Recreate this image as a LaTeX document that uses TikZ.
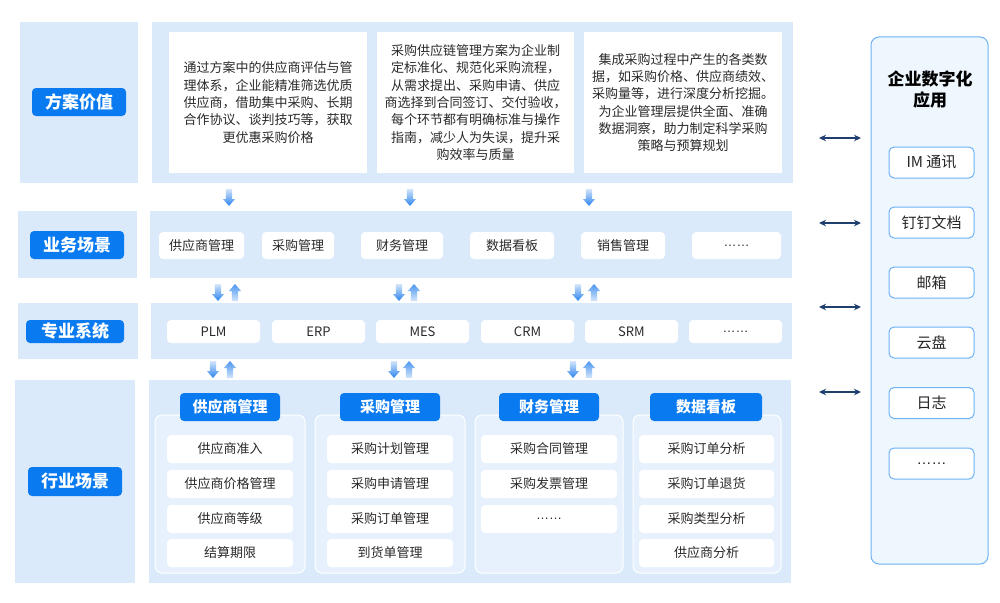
\documentclass[tikz,border=0pt]{standalone}
\usepackage{fontspec}
\setmainfont{Noto Sans CJK SC}
\newfontfamily\latinf{Liberation Sans}
\usetikzlibrary{arrows.meta}
\definecolor{panel}{HTML}{DAEAFB}
\definecolor{labblue}{HTML}{0A7AF0}
\definecolor{grpfill}{HTML}{E6F1FD}
\definecolor{txt}{HTML}{2A2A2A}
\definecolor{navy}{HTML}{1F3F6E}
\definecolor{rborder}{HTML}{6DB2F5}
\definecolor{rfill}{HTML}{EEF6FE}
\definecolor{arrlight}{HTML}{D3E5FB}
\definecolor{arrdark}{HTML}{2B84EE}
\tikzset{
 sz/.style 2 args={minimum width=#1pt, minimum height=#2pt},
 panelbox/.style={fill=panel, inner sep=0},
 labelbox/.style={fill=labblue, rounded corners=4pt, text=white, font=\fontsize{17}{20}\selectfont\bfseries, inner sep=0},
 textbox/.style={fill=white, inner sep=0, text=txt, font=\fontsize{13}{17.3}\selectfont, align=center},
 itembox/.style={fill=white, rounded corners=4pt, inner sep=0, text=txt, font=\fontsize{13}{16}\selectfont},
 grpbox/.style={fill=grpfill, draw=white, line width=1pt, rounded corners=7pt, inner sep=0},
 grphead/.style={fill=labblue, rounded corners=4pt, text=white, font=\fontsize{15}{18}\selectfont\bfseries, inner sep=0},
 rbox/.style={fill=rfill, draw=rborder, line width=1pt, rounded corners=8pt, inner sep=0},
 ritem/.style={fill=white, draw=rborder, line width=1pt, rounded corners=5pt, inner sep=0, text=black!85, font=\fontsize{15}{18}\selectfont},
 dbl/.style={{Stealth[length=7pt,width=6.5pt]}-{Stealth[length=7pt,width=6.5pt]}, draw=navy, line width=1.3pt},
}
\newcommand{\garrdn}[2]{\shade[top color=arrlight, bottom color=arrdark] (#1-3.2,#2) -- (#1+3.2,#2) -- (#1+3.2,#2+10) -- (#1+6,#2+10) -- (#1,#2+17) -- (#1-6,#2+10) -- (#1-3.2,#2+10) -- cycle;}
\newcommand{\garrup}[2]{\shade[top color=arrdark!85, bottom color=arrlight] (#1-3.2,#2) -- (#1+3.2,#2) -- (#1+3.2,#2-10) -- (#1+6,#2-10) -- (#1,#2-17) -- (#1-6,#2-10) -- (#1-3.2,#2-10) -- cycle;}
\newcommand{\myellip}{{\latinf ……}}
\begin{document}
\begin{tikzpicture}[x=1pt,y=-1pt]
\useasboundingbox[fill=white] (0,0) rectangle (1000,602);
% ---------- row 1
\node[panelbox, sz={118}{161}] (lp1) at (79,102.5) {};
\node[panelbox, sz={641}{161}] (rp1) at (472.5,102.5) {};
\node[labelbox, sz={94}{28}] (lab1) at (79,102) {方案价值};
\node[textbox, sz={198}{141}] (t1) at (268,102.5) {通过方案中的供应商评估与管\\理体系，企业能精准筛选优质\\供应商，借助集中采购、长期\\合作协议、谈判技巧等，获取\\更优惠采购价格};
\node[textbox, sz={197}{141}] (t2) at (475.5,102.5) {采购供应链管理方案为企业制\\定标准化、规范化采购流程，\\从需求提出、采购申请、供应\\商选择到合同签订、交付验收，\\每个环节都有明确标准与操作\\指南，减少人为失误，提升采\\购效率与质量};
\node[textbox, sz={198}{141}] (t3) at (683,102.5) {集成采购过程中产生的各类数\\据，如采购价格、供应商绩效、\\采购量等，进行深度分析挖掘。\\为企业管理层提供全面、准确\\数据洞察，助力制定科学采购\\策略与预算规划};
% ---------- row 2
\node[panelbox, sz={119}{67}] (lp2) at (77.5,244.5) {};
\node[panelbox, sz={642}{67}] (rp2) at (471,244.5) {};
\node[labelbox, sz={94}{28}] (lab2) at (77,245) {业务场景};
\node[itembox, sz={85}{27}] (b1) at (201.5,245.5) {供应商管理};
\node[itembox, sz={72}{27}] (b2) at (298,245.5) {采购管理};
\node[itembox, sz={82}{27}] (b3) at (402,245.5) {财务管理};
\node[itembox, sz={84}{27}] (b4) at (512,245.5) {数据看板};
\node[itembox, sz={84}{27}] (b5) at (623,245.5) {销售管理};
\node[itembox, sz={89}{27}] (b6) at (736.5,245.5) {\myellip};
% ---------- row 3
\node[panelbox, sz={120}{56}] (lp3) at (78,331) {};
\node[panelbox, sz={641}{56}] (rp3) at (471.5,331) {};
\node[labelbox, sz={98}{23}] (lab3) at (75,331.5) {专业系统};
\node[itembox, sz={93}{23}] (s1) at (213.5,331.5) {PLM};
\node[itembox, sz={93}{23}] (s2) at (318.5,331.5) {ERP};
\node[itembox, sz={93}{23}] (s3) at (422.5,331.5) {MES};
\node[itembox, sz={93}{23}] (s4) at (527.5,331.5) {CRM};
\node[itembox, sz={93}{23}] (s5) at (631.5,331.5) {SRM};
\node[itembox, sz={93}{23}] (s6) at (735.5,331.5) {\myellip};
% ---------- row 4
\node[panelbox, sz={120}{203}] (lp4) at (75,481.5) {};
\node[panelbox, sz={642}{203}] (rp4) at (470,481.5) {};
\node[labelbox, sz={94}{29}] (lab4) at (75,481.5) {行业场景};
\node[grpbox, sz={150}{158}] (g1) at (230,494) {};
\node[grpbox, sz={150}{158}] (g2) at (390,494) {};
\node[grpbox, sz={148}{158}] (g3) at (549,494) {};
\node[grpbox, sz={148}{158}] (g4) at (707,494) {};
\node[grphead, sz={100}{28}] (h1) at (230,407) {供应商管理};
\node[grphead, sz={100}{28}] (h2) at (390,407) {采购管理};
\node[grphead, sz={100}{28}] (h3) at (549,407) {财务管理};
\node[grphead, sz={112}{28}] (h4) at (706,407) {数据看板};
\node[itembox, sz={126}{28}] (i11) at (230,449) {供应商准入};
\node[itembox, sz={126}{28}] (i12) at (230,484) {供应商价格管理};
\node[itembox, sz={126}{28}] (i13) at (230,519) {供应商等级};
\node[itembox, sz={126}{28}] (i14) at (230,553) {结算期限};
\node[itembox, sz={126}{28}] (i21) at (390,449) {采购计划管理};
\node[itembox, sz={126}{28}] (i22) at (390,484) {采购申请管理};
\node[itembox, sz={126}{28}] (i23) at (390,519) {采购订单管理};
\node[itembox, sz={126}{28}] (i24) at (390,553) {到货单管理};
\node[itembox, sz={136}{28}] (i31) at (549,449) {采购合同管理};
\node[itembox, sz={136}{28}] (i32) at (549,484) {采购发票管理};
\node[itembox, sz={136}{28}] (i33) at (549,519) {\myellip};
\node[itembox, sz={135}{28}] (i41) at (706.5,449) {采购订单分析};
\node[itembox, sz={135}{28}] (i42) at (706.5,484) {采购订单退货};
\node[itembox, sz={135}{28}] (i43) at (706.5,519) {采购类型分析};
\node[itembox, sz={135}{28}] (i44) at (706.5,553) {供应商分析};
% ---------- right column
\node[rbox, sz={117}{527}] (rc) at (929.5,300.5) {};
\node[font=\fontsize{17}{21}\selectfont\bfseries, align=center, text=black, inner sep=0] (rt) at (930,90) {企业数字化\\应用};
\node[ritem, sz={85}{31}] (r1) at (931.5,162.5) {IM 通讯};
\node[ritem, sz={85}{31}] (r2) at (931.5,222.5) {钉钉文档};
\node[ritem, sz={85}{31}] (r3) at (931.5,282.5) {邮箱};
\node[ritem, sz={85}{31}] (r4) at (931.5,342.5) {云盘};
\node[ritem, sz={85}{31}] (r5) at (931.5,403) {日志};
\node[ritem, sz={85}{31}] (r6) at (931.5,463.5) {\myellip};
% ---------- double arrows
\foreach \n/\yy in {1/138,2/223,3/307,4/392}{
  \coordinate (dl\n) at (819,\yy);
  \coordinate (dr\n) at (861,\yy);
  \draw[dbl] (dl\n) -- (dr\n);
}
% ---------- gradient arrows
\garrdn{229}{189}
\garrdn{410}{189}
\garrdn{589}{189}
\garrdn{218}{284}\garrup{235}{301}
\garrdn{399}{284}\garrup{414}{301}
\garrdn{578}{284}\garrup{594}{301}
\garrdn{213}{361}\garrup{230}{378}
\garrdn{394}{361}\garrup{409}{378}
\garrdn{573}{361}\garrup{589}{378}
\end{tikzpicture}
\end{document}
